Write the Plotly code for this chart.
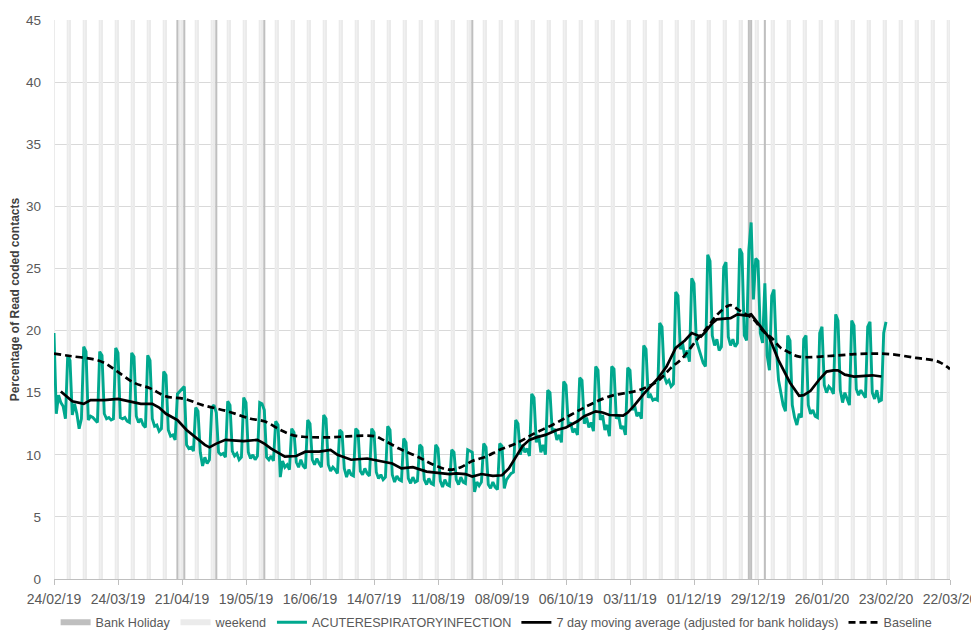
import plotly.graph_objects as go
import pandas as pd

# ---------------- data ----------------
start_date = "2019-02-24"
end_date = "2020-03-22"

# Daily % of Read coded contacts for acute respiratory infection,
# one row per week (Sun, Mon, Tue, Wed, Thu, Fri, Sat), from 24/02/19
ari_daily = [
    19.8, 13.3, 14.8, 14.2, 13.9, 12.9, 18.0,
    17.6, 13.2, 14.1, 13.3, 12.1, 12.9, 18.7,
    18.3, 12.8, 13.1, 13.0, 12.8, 12.6, 18.3,
    18.0, 13.3, 12.9, 13.0, 12.8, 12.9, 18.6,
    18.2, 13.0, 12.9, 13.0, 12.7, 12.6, 18.2,
    17.9, 13.1, 12.6, 12.9, 12.4, 12.2, 18.0,
    17.6, 12.9, 12.3, 12.4, 11.9, 12.1, 16.7,
    16.4, 12.0, 11.5, 11.6, 11.2, 14.9, 15.1,
    15.3, 15.5, 10.8, 10.5, 10.6, 10.3, 13.8,
    13.5, 10.2, 9.1, 9.8, 9.3, 9.6, 13.8,
    14.0, 13.4, 10.2, 10.0, 10.1, 9.8, 14.3,
    14.0, 10.3, 9.9, 10.1, 9.6, 9.8, 14.6,
    14.2, 10.2, 9.7, 10.0, 9.6, 9.9, 14.2,
    14.1, 13.6, 9.8, 9.6, 9.9, 9.5, 12.7,
    12.4, 8.2, 9.5, 9.0, 9.2, 8.8, 12.1,
    11.8, 9.4, 9.0, 9.6, 9.1, 8.9, 12.8,
    12.5, 9.6, 9.2, 9.7, 9.3, 9.0, 13.2,
    12.9, 9.2, 8.7, 9.0, 8.8, 8.5, 12.0,
    11.8, 8.9, 8.2, 8.8, 8.4, 8.3, 12.1,
    11.9, 8.7, 8.4, 8.9, 8.5, 8.3, 12.1,
    11.8, 8.6, 8.1, 8.4, 8.0, 8.2, 12.3,
    12.0, 8.4, 7.8, 8.3, 8.0, 7.9, 11.3,
    11.0, 8.1, 7.7, 8.2, 7.8, 7.9, 10.8,
    10.6, 8.0, 7.6, 8.1, 7.7, 7.6, 10.8,
    10.5, 7.9, 7.4, 8.0, 7.6, 7.5, 10.4,
    10.2, 8.0, 7.6, 8.2, 7.8, 7.7, 10.4,
    10.3, 10.2, 7.0, 7.8, 7.5, 7.8, 10.9,
    10.6, 7.6, 7.3, 7.8, 7.4, 7.2, 10.9,
    10.7, 7.3, 8.0, 8.3, 8.5, 8.6, 12.8,
    12.5, 10.0, 10.8, 10.2, 10.5, 9.9, 14.9,
    14.6, 11.0, 11.6, 10.2, 10.8, 10.0, 15.2,
    15.0, 11.8, 12.1, 11.2, 11.6, 11.0, 15.9,
    15.6, 12.4, 12.6, 11.8, 12.1, 11.6, 16.2,
    16.0, 12.5, 13.0, 12.2, 12.6, 11.9, 17.1,
    16.8, 12.8, 13.2, 12.0, 12.4, 11.5, 17.1,
    16.9, 12.9, 13.2, 12.1, 12.3, 11.6, 17.0,
    16.8, 13.6, 14.0, 13.1, 13.4, 12.9, 18.8,
    18.5, 14.6, 14.8, 14.4, 14.5, 14.4, 20.6,
    20.3, 16.3, 15.8, 16.0, 15.5, 15.7, 23.1,
    22.8, 18.5, 19.0, 17.8, 18.4, 17.5, 24.2,
    23.8, 19.2, 18.6, 17.8, 17.4, 17.1, 26.1,
    25.6, 19.6, 18.8, 19.3, 18.4, 18.7, 25.1,
    25.5, 19.5, 18.8, 19.3, 18.7, 19.0, 26.6,
    26.2, 19.6, 19.2, 26.5, 28.7, 22.5, 25.8,
    25.6, 19.8, 19.0, 23.8, 18.0, 16.8, 22.8,
    23.3, 18.5, 16.0, 15.0, 14.0, 13.5, 19.6,
    19.2, 14.0, 13.0, 12.4, 13.3, 13.0, 19.3,
    19.6, 14.0, 13.3, 13.6, 13.1, 13.0, 19.8,
    20.3, 15.6, 15.0, 15.5, 15.3, 14.9, 21.3,
    20.8, 15.2, 14.2, 15.0, 14.5, 14.0, 20.8,
    20.4, 15.3, 14.8, 15.2, 14.9, 14.6, 20.3,
    20.7, 15.0, 14.5, 15.2, 14.3, 14.4, 19.8,
    20.7,
]

# 7 day moving average (adjusted for bank holidays): day offset from start, value
ma_days = [3, 5, 8, 13, 16, 22, 28, 33, 38, 43, 46, 49, 54, 58, 62, 66, 68, 71,
           75, 83, 89, 92, 95, 101, 106, 110, 116, 121, 124, 130, 137, 143, 148,
           152, 157, 163, 170, 173, 176, 180, 183, 187, 192, 196, 199, 202, 205,
           208, 211, 215, 220, 224, 226, 229, 232, 237, 240, 243, 249, 251, 254,
           258, 264, 268, 272, 276, 279, 283, 285, 288, 290, 296, 299, 303, 305,
           309, 313, 317, 322, 326, 328, 331, 335, 338, 341, 343, 346, 350, 354,
           358, 362]
ma_values = [15.1, 14.8, 14.3, 14.1, 14.4, 14.4, 14.5, 14.3, 14.1, 14.1, 13.8,
             13.3, 12.8, 12.0, 11.4, 10.8, 10.6, 10.9, 11.2, 11.1, 11.2, 10.9,
             10.5, 9.85, 9.9, 10.25, 10.25, 10.4, 10.0, 9.6, 9.7, 9.45, 9.3, 8.9,
             9.0, 8.65, 8.55, 8.45, 8.5, 8.45, 8.25, 8.45, 8.3, 8.35, 8.9, 9.8,
             10.7, 11.2, 11.4, 11.6, 12.0, 12.2, 12.4, 12.7, 13.1, 13.5, 13.4,
             13.2, 13.15, 13.4, 14.0, 14.9, 16.1, 17.1, 18.6, 19.2, 19.8, 19.5,
             19.9, 20.6, 20.9, 21.0, 21.3, 21.2, 21.3, 20.3, 19.4, 17.6, 15.8,
             14.75, 14.8, 15.15, 16.1, 16.7, 16.8, 16.8, 16.45, 16.3, 16.35, 16.4,
             16.3]

# Baseline: day offset from start, value
baseline_days = [0, 7, 17, 22, 27, 35, 42, 49, 57, 65, 76, 86, 92, 99, 104, 109,
                 119, 140, 144, 151, 159, 166, 173, 178, 183, 189, 195, 202, 210,
                 218, 226, 233, 240, 245, 251, 256, 261, 264, 270, 275, 281, 286,
                 290, 294, 296, 300, 306, 310, 314, 318, 321, 326, 339, 350, 358,
                 366, 377, 385, 388, 392]
baseline_values = [18.15, 17.95, 17.7, 17.4, 16.8, 15.8, 15.35, 14.7, 14.5, 14.0,
                   13.5, 12.9, 12.7, 12.0, 11.6, 11.45, 11.4, 11.5, 11.2, 10.5,
                   9.85, 9.2, 8.8, 9.0, 9.5, 9.85, 10.4, 10.9, 11.7, 12.4, 13.2,
                   13.9, 14.5, 14.8, 15.0, 15.2, 15.6, 15.9, 17.0, 17.8, 19.2,
                   20.3, 21.25, 21.9, 22.05, 21.6, 20.9, 20.0, 19.4, 18.6, 18.3,
                   17.9, 17.95, 18.1, 18.15, 18.1, 17.8, 17.6, 17.4, 16.9]

bank_holidays = ["2019-04-19", "2019-04-22", "2019-05-06", "2019-05-27",
                 "2019-08-26", "2019-12-25", "2019-12-26", "2020-01-01"]

tick_labels = ["24/02/19", "24/03/19", "21/04/19", "19/05/19", "16/06/19",
               "14/07/19", "11/08/19", "08/09/19", "06/10/19", "03/11/19",
               "01/12/19", "29/12/19", "26/01/20", "23/02/20", "22/03/20"]

y_max = 45

# ---------------- derived ----------------
start = pd.Timestamp(start_date)
ari_dates = pd.date_range(start, periods=len(ari_daily), freq="D")
ma_dates = [start + pd.Timedelta(days=d) for d in ma_days]
baseline_dates = [start + pd.Timedelta(days=d) for d in baseline_days]
all_days = pd.date_range(start, end_date, freq="D")
weekend_dates = [d for d in all_days if d.dayofweek >= 5]
bh_dates = pd.to_datetime(bank_holidays)
tick_dates = pd.to_datetime(tick_labels, format="%d/%m/%y")
day_ms = 86400000

TEAL = "#00A88E"
BH_GREY = "#BFBFBF"
WE_GREY = "#EBEBEB"
FONT = "Liberation Sans, Arial, sans-serif"

fig = go.Figure()

fig.add_trace(go.Bar(x=weekend_dates, y=[y_max] * len(weekend_dates),
                     width=0.9 * day_ms, marker=dict(color=WE_GREY, line=dict(width=0)),
                     showlegend=False, hoverinfo="skip"))
fig.add_trace(go.Bar(x=bh_dates, y=[y_max] * len(bh_dates),
                     width=0.9 * day_ms, marker=dict(color=BH_GREY, line=dict(width=0)),
                     showlegend=False, hoverinfo="skip"))

# legend entries for the shaded bars
fig.add_trace(go.Scatter(x=[None], y=[None], mode="lines", name="Bank Holiday",
                         line=dict(color=BH_GREY, width=6)))
fig.add_trace(go.Scatter(x=[None], y=[None], mode="lines", name="weekend",
                         line=dict(color=WE_GREY, width=6)))

fig.add_trace(go.Scatter(x=ari_dates, y=ari_daily, mode="lines",
                         name="ACUTERESPIRATORYINFECTION",
                         line=dict(color=TEAL, width=2.9)))
fig.add_trace(go.Scatter(x=ma_dates, y=ma_values, mode="lines",
                         name="7 day moving average (adjusted for bank holidays)",
                         line=dict(color="#000000", width=2.7)))
fig.add_trace(go.Scatter(x=baseline_dates, y=baseline_values, mode="lines",
                         name="Baseline", line_shape="spline",
                         line=dict(color="#000000", width=2.7, dash="7px,4px")))

# the page adds an 8 px body margin, so the figure is sized to fit the window
fig.update_layout(
    width=971, height=622,
    margin=dict(l=46, r=29, t=12, b=51, autoexpand=False),
    paper_bgcolor="white", plot_bgcolor="white",
    font=dict(family=FONT, color="#595959", size=13),
    barmode="overlay",
    showlegend=True,
    legend=dict(orientation="h", x=0.494, xanchor="center", y=-0.078, yanchor="middle",
                font=dict(size=12.6, color="#595959"), itemwidth=30,
                bgcolor="rgba(0,0,0,0)"),
    xaxis=dict(type="date", range=[start, pd.Timestamp(end_date)],
               tickmode="array", tickvals=tick_dates, ticktext=tick_labels,
               ticks="outside", ticklen=5, tickcolor="#BFBFBF",
               showline=True, linecolor="#BFBFBF", linewidth=1,
               showgrid=False, zeroline=False, automargin=False,
               tickfont=dict(size=14, color="#595959"), ticklabelstandoff=2),
    yaxis=dict(range=[0, y_max], dtick=5, tick0=0,
               showgrid=True, gridcolor="#D9D9D9", gridwidth=1,
               zeroline=False, showline=False, ticks="", automargin=False,
               tickfont=dict(size=13.5, color="#595959"), ticklabelstandoff=12,
               title=dict(text="<b>Percentage of Read coded contacts</b>",
                          font=dict(size=12, color="#404040"), standoff=7)),
)

fig.write_html("out.html")
